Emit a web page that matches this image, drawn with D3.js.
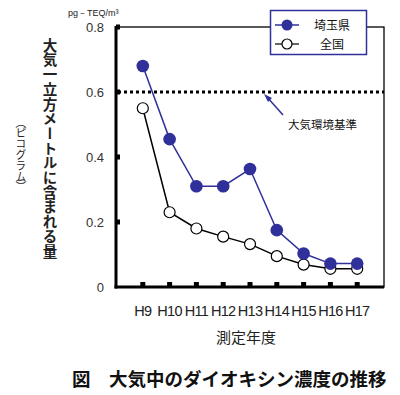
<!DOCTYPE html>
<html><head><meta charset="utf-8">
<script src="https://cdn.jsdelivr.net/npm/d3@7"></script>
<style>body{margin:0;background:#fff}svg{display:block}</style>
</head><body>
<script>
const categories = ["H9","H10","H11","H12","H13","H14","H15","H16","H17"];
const saitama = [0.68,0.455,0.31,0.31,0.363,0.175,0.103,0.072,0.072];
const zenkoku = [0.55,0.23,0.18,0.155,0.132,0.095,0.069,0.056,0.056];
const yTicks = [0,0.2,0.4,0.6,0.8];
const standard = 0.6;
const seriesNames = ["埼玉県","全国"];

const W=400,H=395;
const jp = "'Noto Sans CJK JP','Noto Sans',sans-serif";
const num = "'Liberation Sans',Arial,sans-serif";
const blue = "#30309a";
const svg = d3.select("body").append("svg").attr("width",W).attr("height",H);
const L=116,R=384,T=27,B=287;
const x = d3.scalePoint().domain(categories).range([L,R]).padding(1);
const y = d3.scaleLinear().domain([0,0.8]).range([B,T]);

// plot frame
svg.append("rect").attr("x",L).attr("y",T).attr("width",R-L).attr("height",B-T)
  .attr("fill","none").attr("stroke","#000").attr("stroke-width",1.3);
// thick axes
svg.append("line").attr("x1",L).attr("x2",L).attr("y1",T-1).attr("y2",B+1.5).attr("stroke","#000").attr("stroke-width",3);
svg.append("line").attr("x1",L-1.5).attr("x2",R).attr("y1",B).attr("y2",B).attr("stroke","#000").attr("stroke-width",3);

// y ticks (inside squares) and labels
yTicks.forEach(v=>{
  if(v>0) svg.append("rect").attr("x",L).attr("y",y(v)-2.5).attr("width",4).attr("height",5).attr("fill","#000");
  svg.append("text").attr("x",104).attr("y",y(v)+4.5).attr("text-anchor","end")
    .attr("font-family",num).attr("font-size",13).attr("fill","#333").text(v===0?"0":v.toFixed(1));
});
// x ticks and labels
categories.forEach(c=>{
  svg.append("rect").attr("x",x(c)-2.5).attr("y",B-5).attr("width",5).attr("height",5).attr("fill","#000");
  svg.append("text").attr("x",x(c)).attr("y",316).attr("text-anchor","middle")
    .attr("font-family",num).attr("font-size",14.5).attr("letter-spacing",-0.7).attr("fill","#222").text(c);
});

// standard line
svg.append("line").attr("x1",L+2).attr("x2",R).attr("y1",y(standard)).attr("y2",y(standard))
  .attr("stroke","#000").attr("stroke-width",3).attr("stroke-dasharray","3,3");

// lines
const line = d3.line().x((d,i)=>x(categories[i])).y(d=>y(d));
svg.append("path").datum(zenkoku).attr("d",line).attr("fill","none").attr("stroke","#000").attr("stroke-width",1.5);
svg.append("path").datum(saitama).attr("d",line).attr("fill","none").attr("stroke",blue).attr("stroke-width",1.5);
svg.selectAll(".pz").data(zenkoku).enter().append("circle")
  .attr("cx",(d,i)=>x(categories[i])).attr("cy",d=>y(d)).attr("r",5.5)
  .attr("fill","#fff").attr("stroke","#000").attr("stroke-width",1.2);
svg.selectAll(".ps").data(saitama).enter().append("circle")
  .attr("cx",(d,i)=>x(categories[i])).attr("cy",d=>y(d)).attr("r",6.3)
  .attr("fill",blue);

// arrow + label
svg.append("line").attr("x1",283).attr("x2",267).attr("y1",115).attr("y2",97).attr("stroke",blue).attr("stroke-width",1.5);
svg.append("path").attr("d","M264,94 L272,98 L268,102 Z").attr("fill",blue);
svg.append("text").attr("x",288).attr("y",129).attr("font-family",jp).attr("font-size",11.5).attr("fill","#111").text("大気環境基準");

// legend
svg.append("rect").attr("x",270.5).attr("y",10.5).attr("width",96).attr("height",44).attr("fill","#fff").attr("stroke",blue).attr("stroke-width",1.5);
const ly=[25,44];
svg.append("line").attr("x1",275).attr("x2",299).attr("y1",ly[0]).attr("y2",ly[0]).attr("stroke",blue).attr("stroke-width",1.5);
svg.append("circle").attr("cx",287).attr("cy",ly[0]).attr("r",5.5).attr("fill",blue);
svg.append("line").attr("x1",275).attr("x2",299).attr("y1",ly[1]).attr("y2",ly[1]).attr("stroke","#000").attr("stroke-width",1.2);
svg.append("circle").attr("cx",287).attr("cy",ly[1]).attr("r",5).attr("fill","#fff").attr("stroke","#000").attr("stroke-width",1.2);
svg.append("text").attr("x",332).attr("y",ly[0]+4.5).attr("text-anchor","middle").attr("font-family",jp).attr("font-size",12).attr("fill","#111").text(seriesNames[0]);
svg.append("text").attr("x",332).attr("y",ly[1]+4.5).attr("text-anchor","middle").attr("font-family",jp).attr("font-size",12).attr("fill","#111").text(seriesNames[1]);

// unit
svg.append("text").attr("x",68).attr("y",16).attr("font-family",num).attr("font-size",9).attr("fill","#222").text("pg－TEQ/m³");

// y titles (vertical)
svg.append("text").attr("x",50).attr("y",38).attr("writing-mode","vertical-rl")
  .attr("font-family",jp).attr("font-size",14.5).attr("font-weight","bold").attr("fill","#222")
  .attr("letter-spacing",0.2).text("大気一立方メートルに含まれる量");
svg.append("text").attr("x",21).attr("y",117).attr("writing-mode","vertical-rl")
  .attr("font-family",jp).attr("font-size",10.8).attr("fill","#222").text("（ピコグラム）");

// x title
svg.append("text").attr("x",246).attr("y",343).attr("text-anchor","middle").attr("font-family",jp).attr("font-size",15).attr("fill","#222").text("測定年度");
// caption
svg.append("text").attr("x",72).attr("y",386).attr("font-family",jp).attr("font-size",18.5).attr("font-weight","bold").attr("fill","#111").text("図　大気中のダイオキシン濃度の推移");
</script>
</body></html>
